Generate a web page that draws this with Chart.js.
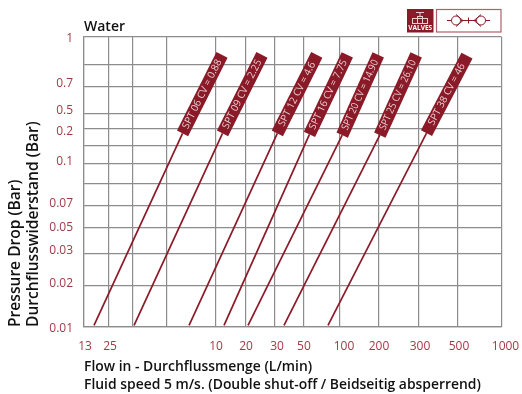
<!DOCTYPE html>
<html>
<head>
<meta charset="utf-8">
<title>Water pressure drop</title>
<script src="https://cdn.jsdelivr.net/npm/chart.js@4"></script>
<style>
html,body{margin:0;padding:0;background:#fff;}
canvas{display:block;}
</style>
</head>
<body>
<canvas id="flow-chart" width="522" height="394"></canvas>
<script>
var flowTicks = [1.3, 2.5, 4, 6, 10, 20, 30, 50, 100, 200, 300, 500, 1000];
var flowLabels = ["13", "25", "", "", "10", "20", "30", "50", "100", "200", "300", "500", "1000"];
var dropTicks = [0.01, 0.02, 0.03, 0.05, 0.07, 0.085, 0.1, 0.15, 0.2, 0.5, 0.7, 0.85, 1];
var dropLabels = ["0.01", "0.02", "0.03", "0.05", "0.07", "", "0.1", "", "0.2", "0.5", "0.7", "", "1"];

var valves = ["SPT 06 CV = 0.88", "SPT 09 CV = 2.25", "SPT 12 CV = 4.6", "SPT 16 CV = 7.75", "SPT 20 CV = 14.90", "SPT 25 CV = 26.10", "SPT 38 CV = 46"];
var startFlow = [1.78, 4.06, 7.8, 12.67, 20.7, 36.2, 83.3];
var startDrop = [0.0104, 0.0104, 0.0104, 0.0104, 0.0104, 0.0104, 0.0104];
var tagFlow = [7.27, 12.17, 31.6, 57.6, 105.6, 202, 338.5];
var tagDrop = [0.187, 0.187, 0.187, 0.184, 0.182, 0.182, 0.188];
var endFlow = [12, 25.5, 67.8, 118.7, 198, 293, 603.4];
var endDrop = [0.904, 0.904, 0.904, 0.904, 0.904, 0.904, 0.9];

var red = "#8a1a28";
var labelRed = "#a23a46";
var gridGrey = "#8c8c8c";
var font = "'Open Sans', sans-serif";

// the printed axes are not really log or linear, so ticks sit where the stops say
class StopScale extends Chart.LinearScale {
  buildTicks() {
    return this.options.tickValues.map(function(v) { return {value: v}; });
  }
  getPixelForValue(value) {
    var vals = this.options.tickValues, stops = this.options.stops;
    var i = 0;
    while (i < vals.length - 2 && value > vals[i + 1]) i++;
    var t = (value - vals[i]) / (vals[i + 1] - vals[i]);
    return this.getPixelForDecimal(stops[i] + t * (stops[i + 1] - stops[i]));
  }
  _computeLabelItems(chartArea) {
    var items = super._computeLabelItems(chartArea);
    var nudge = this.options.labelNudge;
    var horizontal = this.isHorizontal();
    items.forEach(function(item, i) {
      item.options.translation[horizontal ? 0 : 1] += nudge[i];
    });
    return items;
  }
}
StopScale.id = "stops";
StopScale.defaults = {};
Chart.register(StopScale);

var datasets = [];
for (var i = 0; i < valves.length; i++) {
  datasets.push({
    label: valves[i] + " line",
    data: [{x: startFlow[i], y: startDrop[i]}, {x: tagFlow[i], y: tagDrop[i]}],
    borderColor: red,
    borderWidth: 1.7,
    pointRadius: 0,
    fill: false
  });
}
for (var i = 0; i < valves.length; i++) {
  datasets.push({
    label: valves[i],
    data: [{x: tagFlow[i], y: tagDrop[i]}, {x: endFlow[i], y: endDrop[i]}],
    borderColor: red,
    borderWidth: 12.5,
    borderCapStyle: "butt",
    pointRadius: 0,
    fill: false,
    isTag: true
  });
}

var tagText = {
  id: "tagText",
  afterDatasetsDraw: function(chart) {
    var ctx = chart.ctx;
    chart.data.datasets.forEach(function(ds, n) {
      if (!ds.isTag) return;
      var pts = chart.getDatasetMeta(n).data;
      var a = Math.atan2(pts[1].y - pts[0].y, pts[1].x - pts[0].x);
      ctx.save();
      ctx.translate((pts[0].x + pts[1].x) / 2, (pts[0].y + pts[1].y) / 2);
      ctx.rotate(a);
      ctx.font = "10px " + font;
      ctx.fillStyle = "#e9cdd0";
      ctx.textAlign = "center";
      ctx.textBaseline = "middle";
      ctx.fillText(ds.label, 0, 0, 76);
      ctx.restore();
    });
  }
};

// little valve badge top right
var badge = {
  id: "badge",
  afterDraw: function(chart) {
    var ctx = chart.ctx;
    ctx.save();
    ctx.fillStyle = red;
    ctx.fillRect(407, 9, 26.5, 23.5);
    ctx.strokeStyle = "#e9cdd0";
    ctx.lineWidth = 1;
    ctx.strokeRect(412.5, 18.5, 15, 5);
    ctx.strokeRect(417.5, 16.5, 5, 7);
    ctx.beginPath();
    ctx.moveTo(416, 12.5); ctx.lineTo(424, 12.5);
    ctx.moveTo(420, 12.5); ctx.lineTo(420, 16.5);
    ctx.stroke();
    ctx.fillStyle = "#fff";
    ctx.font = "bold 7px " + font;
    ctx.textAlign = "center";
    ctx.textBaseline = "middle";
    ctx.fillText("VALVES", 420.2, 27.7, 24);

    ctx.strokeStyle = "#b0606a";
    ctx.lineWidth = 1.2;
    ctx.strokeRect(436.5, 9.5, 64.5, 22.5);
    ctx.strokeStyle = red;
    ctx.lineWidth = 1;
    ctx.beginPath();
    ctx.moveTo(447, 20.5); ctx.lineTo(490, 20.5);
    ctx.moveTo(468.5, 17.5); ctx.lineTo(468.5, 23.5);
    ctx.stroke();
    ctx.fillStyle = "#fff";
    [456, 481].forEach(function(cx, n) {
      var dir = n == 0 ? 1 : -1;
      ctx.beginPath();
      ctx.arc(cx, 20.5, 4.5, 0, Math.PI * 2);
      ctx.fill();
      ctx.stroke();
      ctx.beginPath();
      ctx.moveTo(cx, 14.5);
      ctx.lineTo(cx + dir * 7, 20.5);
      ctx.lineTo(cx, 26.5);
      ctx.stroke();
    });
    ctx.restore();
  }
};

new Chart(document.getElementById("flow-chart"), {
  type: "line",
  data: {datasets: datasets},
  plugins: [tagText, badge],
  options: {
    responsive: false,
    animation: false,
    layout: {padding: {left: 0, right: 20.5, top: 0, bottom: 0}},
    plugins: {
      legend: {display: false},
      tooltip: {enabled: false},
      title: {
        display: true,
        text: "Water",
        align: "start",
        fullSize: false,
        color: "#111",
        font: {family: font, size: 14, weight: "600", lineHeight: 1.2},
        padding: {top: 19, bottom: 1.2}
      }
    },
    scales: {
      x: {
        type: "stops",
        min: 1.3,
        max: 1000,
        tickValues: flowTicks,
        stops: [0, 0.0599, 0.1174, 0.1988, 0.3162, 0.388, 0.4575, 0.5269, 0.6132, 0.7066, 0.8024, 0.8958, 1],
        labelNudge: [1, 1, 0, 0, 0, 0, 2, 0, 4, 0, 1, 1, 4],
        afterFit: function(s) { s.height = 67; s.paddingLeft = 0; s.paddingRight = 0; },
        grid: {color: gridGrey, lineWidth: 1.2, drawTicks: false},
        border: {color: gridGrey, width: 1.2},
        ticks: {
          autoSkip: false,
          maxRotation: 0,
          padding: 12,
          color: labelRed,
          font: {family: font, size: 12},
          callback: function(v, i) { return flowLabels[i]; }
        },
        title: {
          display: true,
          align: "start",
          text: ["Flow in - Durchflussmenge (L/min)", "Fluid speed 5 m/s. (Double shut-off / Beidseitig absperrend)"],
          color: "#111",
          font: {family: font, size: 13.9, weight: "600", lineHeight: 1.3},
          padding: {top: 5, bottom: 0}
        }
      },
      y: {
        type: "stops",
        min: 0.01,
        max: 1,
        tickValues: dropTicks,
        stops: [0, 0.1414, 0.2517, 0.3414, 0.4172, 0.4931, 0.5621, 0.6241, 0.6828, 0.7345, 0.8276, 0.9034, 1],
        labelNudge: [2, -2, -3, 0, -2, 0, -2, 0, 3, -3, -3, 0, 2],
        afterFit: function(s) { s.width = 84; s.paddingTop = 0; s.paddingBottom = 0; },
        grid: {color: gridGrey, lineWidth: 1.2, drawTicks: false},
        border: {color: gridGrey, width: 1.2},
        ticks: {
          autoSkip: false,
          padding: 11,
          color: labelRed,
          font: {family: font, size: 12},
          callback: function(v, i) { return dropLabels[i]; }
        },
        title: {
          display: true,
          align: "start",
          text: ["Pressure Drop (Bar)", "Durchflusswiderstand (Bar)"],
          color: "#111",
          font: {family: font, size: 15.6, weight: "600", lineHeight: 1.15},
          padding: {top: 7, bottom: 0}
        }
      }
    }
  }
});
</script>
</body>
</html>
